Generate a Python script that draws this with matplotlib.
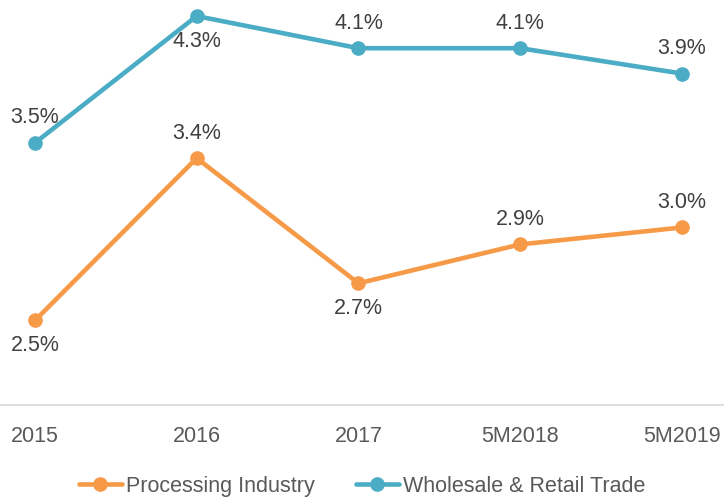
import matplotlib.pyplot as plt
from matplotlib import font_manager

names = {f.name for f in font_manager.fontManager.ttflist}
if "Liberation Sans Narrow" in names:
    plt.rcParams['font.family'] = ['Liberation Sans Narrow', 'DejaVu Sans']
    fs = 18
else:
    plt.rcParams['font.family'] = ['Liberation Sans', 'DejaVu Sans']
    fs = 15.5

periods = ["2015", "2016", "2017", "5M2018", "5M2019"]
# values (labels are the rounded figures)
processing = [2.50, 3.46, 2.72, 2.95, 3.05]
wholesale = [3.55, 4.30, 4.11, 4.11, 3.96]
processing_labels = ["2.5%", "3.4%", "2.7%", "2.9%", "3.0%"]
wholesale_labels = ["3.5%", "4.3%", "4.1%", "4.1%", "3.9%"]
# label placement: 1 = above the point, -1 = below
processing_pos = [-1, 1, -1, 1, 1]
wholesale_pos = [1, -1, 1, 1, 1]

orange = "#F79A48"
blue = "#4BACC6"

fig = plt.figure(figsize=(7.24, 4.97), dpi=100)
ax = fig.add_axes([0, 0.185, 1, 0.815])

x = list(range(len(periods)))
ax.plot(x, processing, color=orange, lw=3.3, marker="o", ms=9.5,
        label="Processing Industry", solid_capstyle="round")
ax.plot(x, wholesale, color=blue, lw=3.3, marker="o", ms=9.5,
        label="Wholesale & Retail Trade", solid_capstyle="round")

for vals, labs, pos in [(processing, processing_labels, processing_pos),
                        (wholesale, wholesale_labels, wholesale_pos)]:
    for i, (v, t, p) in enumerate(zip(vals, labs, pos)):
        ax.annotate(t, (i, v), xytext=(0, 18 * p), textcoords="offset points",
                    ha="center", va="center", fontsize=fs, color="#404040")

ax.set_xlim(-0.216, 4.26)
ax.set_ylim(2.0, 4.395)
ax.set_xticks(x)
ax.set_xticklabels(periods, fontsize=fs, color="#595959")
ax.set_yticks([])
for s in ["top", "left", "right"]:
    ax.spines[s].set_visible(False)
ax.spines["bottom"].set_color("#D9D9D9")
ax.spines["bottom"].set_linewidth(1.2)
ax.tick_params(axis="x", length=0, pad=15)

fig.legend(loc="lower center", bbox_to_anchor=(0.5, -0.038), ncol=2, frameon=False,
           fontsize=fs, labelcolor="#595959", handlelength=2.0, columnspacing=1.9,
           handletextpad=0.2)

fig.savefig("out.png", dpi=100)
